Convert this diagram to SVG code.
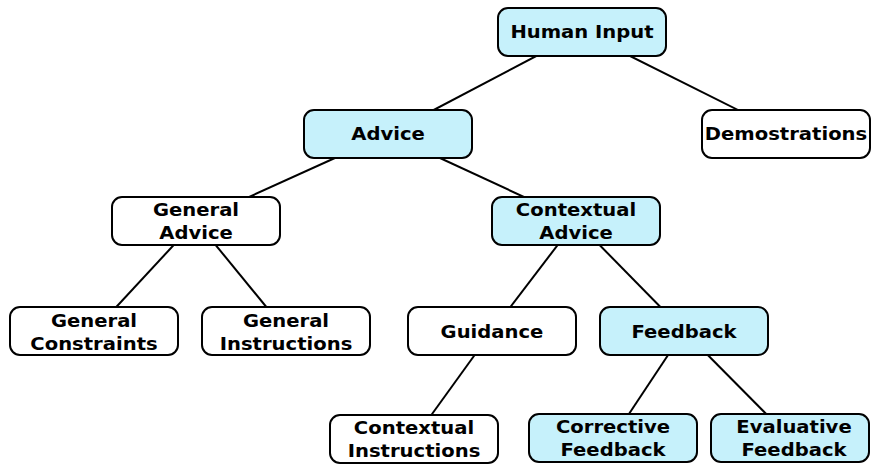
<svg xmlns="http://www.w3.org/2000/svg" width="872" height="464" viewBox="0 0 872 464">
<style>
.box{stroke:#000;stroke-width:2}
.hl{fill:#c6f1fb}
.pl{fill:#fff}
.lbl{font-family:"DejaVu Sans",sans-serif;font-weight:bold;font-size:17.5px;text-anchor:middle;fill:#000}
.edge{stroke:#000;stroke-width:2;fill:none}
</style>
<rect width="872" height="464" fill="#fff"/>
<g id="connectors">
<line class="edge" x1="582" y1="32" x2="388" y2="134"/>
<line class="edge" x1="582" y1="32" x2="786" y2="134"/>
<line class="edge" x1="388" y1="134" x2="196" y2="221"/>
<line class="edge" x1="388" y1="134" x2="576" y2="221"/>
<line class="edge" x1="196" y1="221" x2="94" y2="331"/>
<line class="edge" x1="196" y1="221" x2="286" y2="331"/>
<line class="edge" x1="576" y1="221" x2="492" y2="331"/>
<line class="edge" x1="576" y1="221" x2="684" y2="331"/>
<line class="edge" x1="492" y1="331" x2="414" y2="439"/>
<line class="edge" x1="684" y1="331" x2="613" y2="438"/>
<line class="edge" x1="684" y1="331" x2="790" y2="438"/>
</g>
<g id="human-input"><rect class="box hl" x="498" y="8" width="168" height="48" rx="10"/><text class="lbl" transform="translate(582,38) scale(1.12,1)">Human Input</text></g>
<g id="advice"><rect class="box hl" x="304" y="110" width="168" height="48" rx="10"/><text class="lbl" transform="translate(388,140) scale(1.12,1)">Advice</text></g>
<g id="demostrations"><rect class="box pl" x="702" y="110" width="168" height="48" rx="10"/><text class="lbl" transform="translate(786,140) scale(1.12,1)">Demostrations</text></g>
<g id="general-advice"><rect class="box pl" x="112" y="197" width="168" height="48" rx="10"/><text class="lbl" transform="translate(196,216) scale(1.12,1)">General</text><text class="lbl" transform="translate(196,239) scale(1.12,1)">Advice</text></g>
<g id="contextual-advice"><rect class="box hl" x="492" y="197" width="168" height="48" rx="10"/><text class="lbl" transform="translate(576,216) scale(1.12,1)">Contextual</text><text class="lbl" transform="translate(576,239) scale(1.12,1)">Advice</text></g>
<g id="general-constraints"><rect class="box pl" x="10" y="307" width="168" height="48" rx="10"/><text class="lbl" transform="translate(94,327) scale(1.12,1)">General</text><text class="lbl" transform="translate(94,350) scale(1.12,1)">Constraints</text></g>
<g id="general-instructions"><rect class="box pl" x="202" y="307" width="168" height="48" rx="10"/><text class="lbl" transform="translate(286,327) scale(1.12,1)">General</text><text class="lbl" transform="translate(286,350) scale(1.12,1)">Instructions</text></g>
<g id="guidance"><rect class="box pl" x="408" y="307" width="168" height="48" rx="10"/><text class="lbl" transform="translate(492,338) scale(1.12,1)">Guidance</text></g>
<g id="feedback"><rect class="box hl" x="600" y="307" width="168" height="48" rx="10"/><text class="lbl" transform="translate(684,338) scale(1.12,1)">Feedback</text></g>
<g id="contextual-instructions"><rect class="box pl" x="330" y="415" width="168" height="48" rx="10"/><text class="lbl" transform="translate(414,434) scale(1.12,1)">Contextual</text><text class="lbl" transform="translate(414,457) scale(1.12,1)">Instructions</text></g>
<g id="corrective-feedback"><rect class="box hl" x="529" y="414" width="168" height="48" rx="10"/><text class="lbl" transform="translate(613,433) scale(1.12,1)">Corrective</text><text class="lbl" transform="translate(613,456) scale(1.12,1)">Feedback</text></g>
<g id="evaluative-feedback"><rect class="box hl" x="711" y="414" width="158" height="48" rx="10"/><text class="lbl" transform="translate(794,433) scale(1.12,1)">Evaluative</text><text class="lbl" transform="translate(794,456) scale(1.12,1)">Feedback</text></g>
</svg>
